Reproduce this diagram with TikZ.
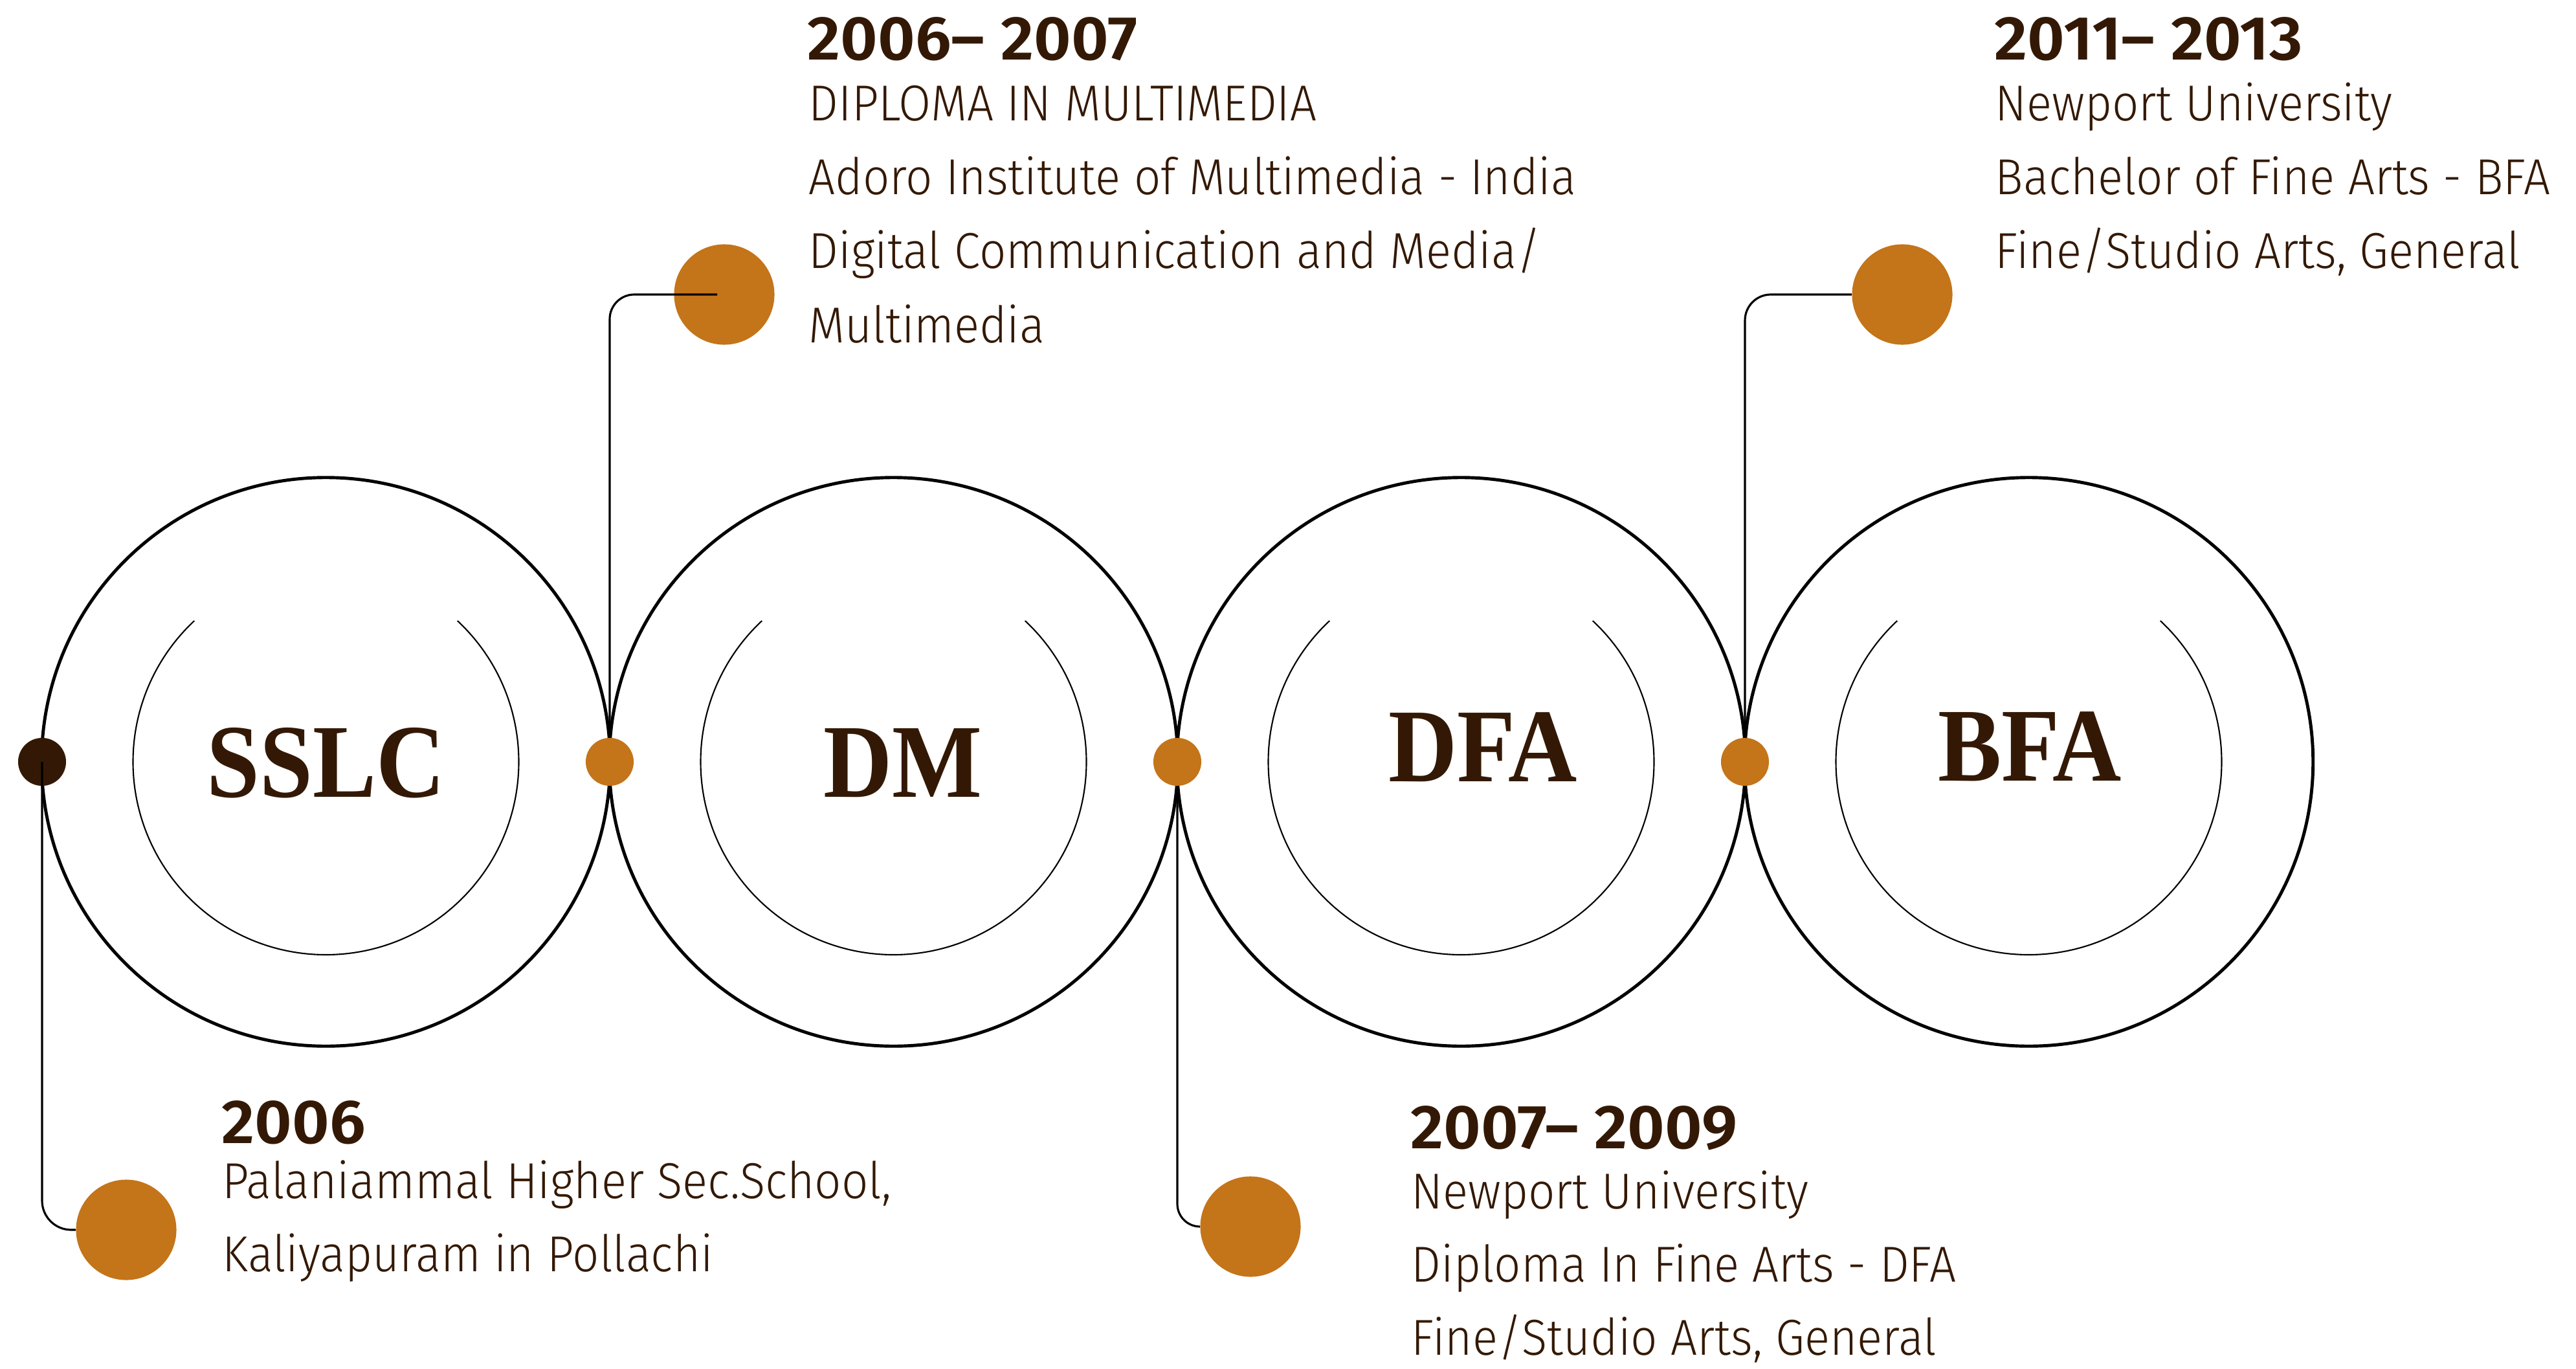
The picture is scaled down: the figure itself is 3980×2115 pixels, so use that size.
\documentclass[tikz,border=0pt]{standalone}
\usepackage{fontspec}
\newfontfamily\bodyf[FakeStretch=0.93]{Fira Sans Light}
\newfontfamily\titlef[FakeStretch=1.04]{Fira Sans SemiBold}
\newfontfamily\labf[FakeStretch=0.91]{Liberation Serif}
\definecolor{accent}{HTML}{C47419}
\definecolor{ink}{HTML}{331905}
\begin{document}
\begin{tikzpicture}[x=0.01cm,y=-0.01cm,
  ring/.style={circle,draw=black,line width=1.4pt,minimum size=8.78cm,inner sep=0pt},
  innerarc/.style={line width=0.6pt},
  jdot/.style={circle,fill=accent,minimum size=0.74cm,inner sep=0pt},
  bigdot/.style={circle,fill=accent,minimum size=1.55cm,inner sep=0pt},
  conn/.style={draw=black,line width=0.9pt},
  lab/.style={anchor=base,inner sep=0pt,text=ink,font=\labf\bfseries\fontsize{46pt}{50pt}\selectfont},
  yr/.style={anchor=base west,inner sep=0pt,text=ink,font=\titlef\fontsize{27.3pt}{30pt}\selectfont},
  txt/.style={anchor=base west,inner sep=0pt,text=ink,font=\bodyf\fontsize{22.2pt}{26pt}\selectfont}]
\useasboundingbox (0,0) rectangle (3980,2115);
\fill[white] (0,0) rectangle (3980,2115);
% rings
\node[ring] (c1) at (503.5,1177) {};
\node[ring] (c2) at (1380.5,1177) {};
\node[ring] (c3) at (2257.5,1177) {};
\node[ring] (c4) at (3134.5,1177) {};
\foreach \c in {c1,c2,c3,c4}
  \draw[innerarc] ([shift={(-47:298)}]\c.center) arc[start angle=-47,end angle=227,radius=298];
% junction points
\coordinate (p1) at (65,1177);
\coordinate (p2) at (942,1177);
\coordinate (p3) at (1819,1177);
\coordinate (p4) at (2696,1177);
% big dots
\node[bigdot] (d1) at (195,1900) {};
\node[bigdot] (d2) at (1119,455) {};
\node[bigdot] (d3) at (1932,1895) {};
\node[bigdot] (d4) at (2939,455) {};
\node[jdot,fill=ink] (j1) at (p1) {};
% connectors
\draw[conn,rounded corners=0.45cm] (p1) |- (d1.west);
\draw[conn,rounded corners=0.35cm] (p3) |- (d3.west);
\draw[conn,rounded corners=0.4cm] (p4) |- (d4.west);
\draw[conn,rounded corners=0.38cm] (p2) |- ([xshift=-0.11cm]d2.center);
\node[jdot] (j2) at (p2) {};
\node[jdot] (j3) at (p3) {};
\node[jdot] (j4) at (p4) {};
% labels
\node[lab] (l1) at (504,1231) {SSLC};
\node[lab] (l2) at (1395,1231) {DM};
\node[lab] (l3) at (2291,1207) {DFA};
\node[lab] (l4) at (3136,1206) {BFA};
% DM texts
\node[yr] (t2y) at (1247,92) {2006– 2007};
\node[txt] (t2a) at (1249,186) {DIPLOMA IN MULTIMEDIA};
\node[txt] (t2b) at (1249,300) {Adoro Institute of Multimedia - India};
\node[txt] (t2c) at (1249,414) {Digital Communication and Media/};
\node[txt] (t2d) at (1249,529) {Multimedia};
% BFA texts
\node[yr] (t4y) at (3081,92) {2011– 2013};
\node[txt] (t4a) at (3082,186) {Newport University};
\node[txt] (t4b) at (3082,300) {Bachelor of Fine Arts - BFA};
\node[txt] (t4c) at (3082,414) {Fine/Studio Arts, General};
% SSLC texts
\node[yr] (t1y) at (342,1766) {2006};
\node[txt] (t1a) at (343,1851) {Palaniammal Higher Sec.School,};
\node[txt] (t1b) at (343,1964) {Kaliyapuram in Pollachi};
% DFA texts
\node[yr] (t3y) at (2179,1774) {2007– 2009};
\node[txt] (t3a) at (2180,1867) {Newport University};
\node[txt] (t3b) at (2180,1980) {Diploma In Fine Arts - DFA};
\node[txt] (t3c) at (2180,2093) {Fine/Studio Arts, General};
\end{tikzpicture}
\end{document}
